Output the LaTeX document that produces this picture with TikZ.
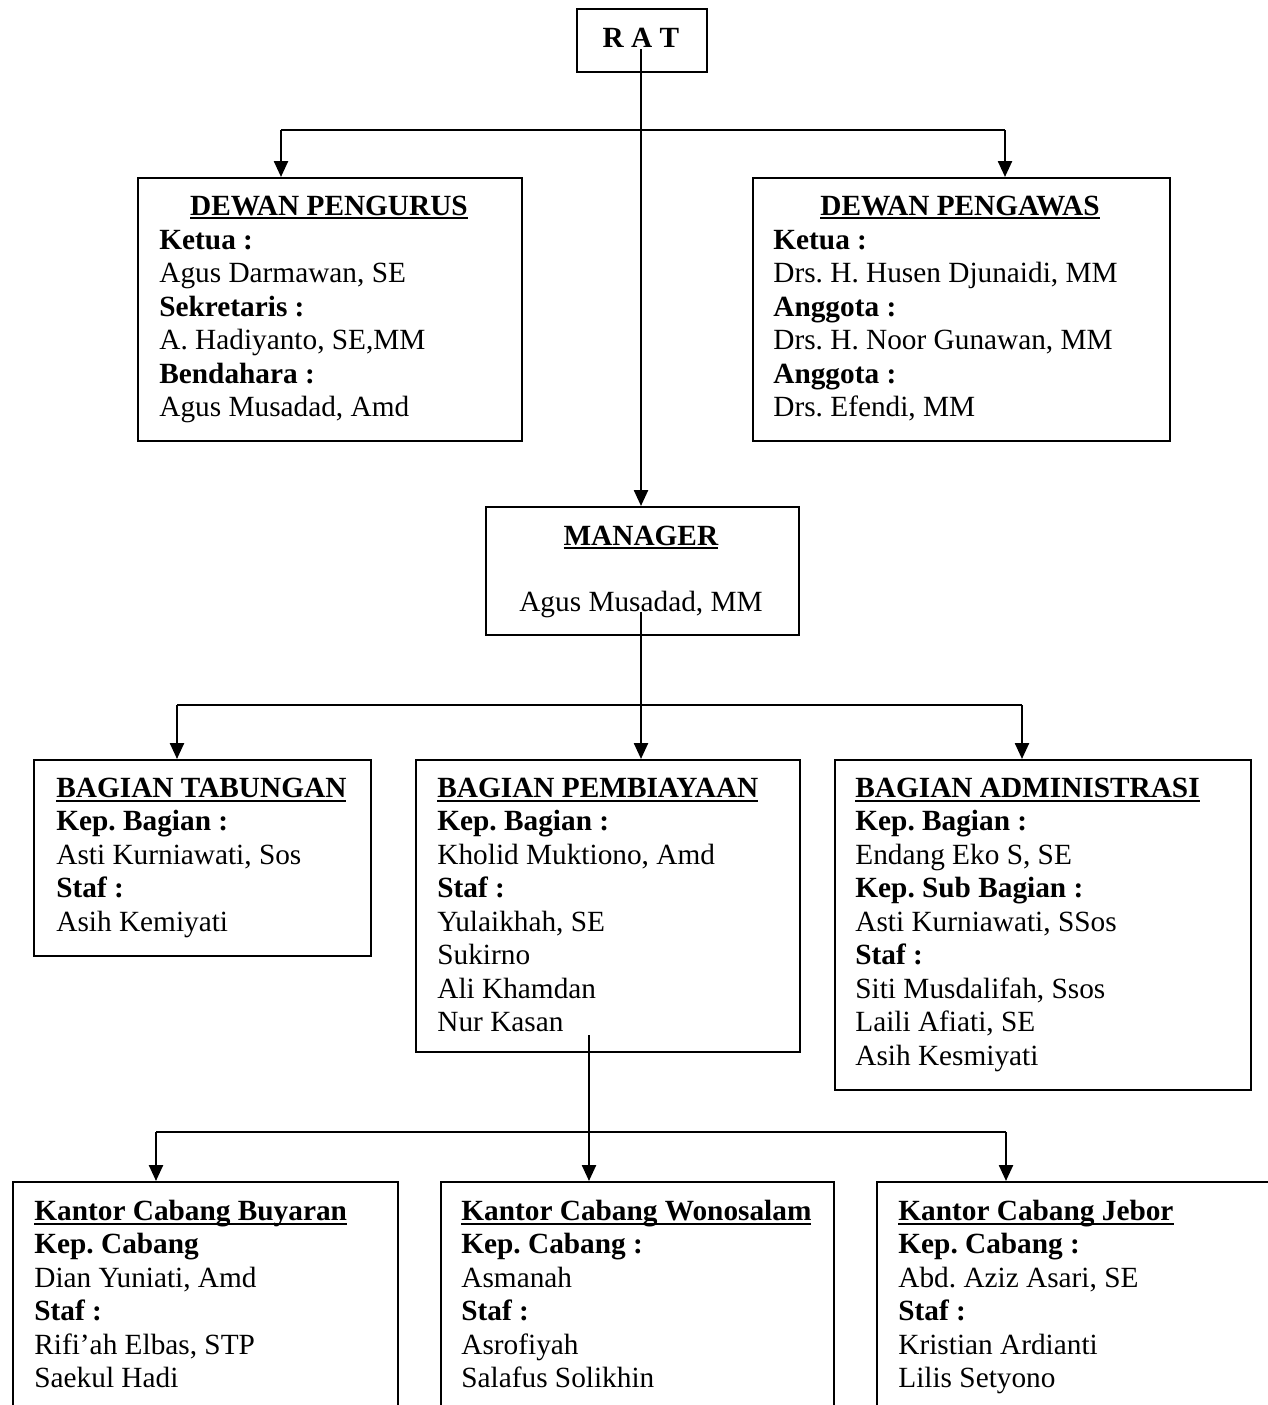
\documentclass[tikz,border=0pt]{standalone}
\usepackage{fontspec}
\setmainfont{Liberation Serif}
\usetikzlibrary{arrows.meta}
\newcommand\fs{\fontsize{14.65}{16.75}\selectfont\frenchspacing}
\newcommand\ulb[1]{\setbox0\hbox{#1}\rlap{\rule[-2.1pt]{\wd0}{1pt}}\box0}
\begin{document}
\begin{tikzpicture}[x=0.5pt,y=-0.5pt,
  box/.style={draw, line width=1pt, inner sep=0pt, anchor=north west},
  ttl/.style={anchor=base, inner sep=0pt, font=\fs},
  body/.style={anchor=north west, inner sep=0pt, align=left, font=\fs},
  ln/.style={line width=1.2pt},
  arr/.style={line width=1.2pt, -{Triangle[length=8pt,width=7pt]}}]
\useasboundingbox (0,0) rectangle (1268,1405);
\clip (0,0) rectangle (1268,1405);
\fill[white] (0,0) rectangle (1268,1405);

% boxes
\node[box, minimum width=65pt,  minimum height=31.5pt] (rat)  at (576,8) {};
\node[box, minimum width=192pt, minimum height=131.5pt] (dp)  at (137,177) {};
\node[box, minimum width=208.5pt, minimum height=131.5pt] (dv) at (752,177) {};
\node[box, minimum width=156.5pt, minimum height=64pt] (mgr) at (485,506) {};
\node[box, minimum width=168.5pt, minimum height=98pt] (tab) at (33,759) {};
\node[box, minimum width=192pt, minimum height=146pt] (pemb) at (415,759) {};
\node[box, minimum width=208pt, minimum height=165pt] (adm) at (834,759) {};
\node[box, minimum width=192.5pt, minimum height=130pt] (buy) at (12,1181) {};
\node[box, minimum width=196.5pt, minimum height=130pt] (won) at (440,1181) {};
\node[box, minimum width=210pt, minimum height=130pt] (jeb) at (876,1181) {};

% texts
\node[ttl] (ratt) at (641,47) {\textbf{R A T}};

\node[ttl] (dpt) at (329,215) {\ulb{\textbf{DEWAN PENGURUS}}};
\node[body] (dpb) at (159,225.5) {\strut\textbf{Ketua :}\\Agus Darmawan, SE\\\textbf{Sekretaris :}\\A. Hadiyanto, SE,MM\\\textbf{Bendahara :}\\Agus Musadad, Amd};

\node[ttl] (dvt) at (960,215) {\ulb{\textbf{DEWAN PENGAWAS}}};
\node[body] (dvb) at (773,225.5) {\strut\textbf{Ketua :}\\Drs. H. Husen Djunaidi, MM\\\textbf{Anggota :}\\Drs. H. Noor Gunawan, MM\\\textbf{Anggota :}\\Drs. Efendi, MM};

\node[ttl] (mgrt) at (641,545) {\ulb{\textbf{MANAGER}}};
\node[ttl] (mgrn) at (641,611) {Agus Musadad, MM};

\node[body] (tabb) at (56,773.5) {\strut\ulb{\textbf{BAGIAN TABUNGAN}}\\\textbf{Kep. Bagian :}\\Asti Kurniawati, Sos\\\textbf{Staf :}\\Asih Kemiyati};

\node[body] (pembb) at (437,773.5) {\strut\ulb{\textbf{BAGIAN PEMBIAYAAN}}\\\textbf{Kep. Bagian :}\\Kholid Muktiono, Amd\\\textbf{Staf :}\\Yulaikhah, SE\\Sukirno\\Ali Khamdan\\Nur Kasan};

\node[body] (admb) at (855,773.5) {\strut\ulb{\textbf{BAGIAN ADMINISTRASI}}\\\textbf{Kep. Bagian :}\\Endang Eko S, SE\\\textbf{Kep. Sub Bagian :}\\Asti Kurniawati, SSos\\\textbf{Staf :}\\Siti Musdalifah, Ssos\\Laili Afiati, SE\\Asih Kesmiyati};

\node[body] (buyb) at (34,1196.5) {\strut\ulb{\textbf{Kantor Cabang Buyaran}}\\\textbf{Kep. Cabang}\\Dian Yuniati, Amd\\\textbf{Staf :}\\Rifi’ah Elbas, STP\\Saekul Hadi};

\node[body] (wonb) at (461,1196.5) {\strut\ulb{\textbf{Kantor Cabang Wonosalam}}\\\textbf{Kep. Cabang :}\\Asmanah\\\textbf{Staf :}\\Asrofiyah\\Salafus Solikhin};

\node[body] (jebb) at (898,1196.5) {\strut\ulb{\textbf{Kantor Cabang Jebor}}\\\textbf{Kep. Cabang :}\\Abd. Aziz Asari, SE\\\textbf{Staf :}\\Kristian Ardianti\\Lilis Setyono};

% connectors
\coordinate (ratin) at (641,49);
\draw[arr] (ratin) -- (ratin |- mgr.north);
\coordinate (t1) at (281,130);
\coordinate (t2) at (1005,130);
\draw[ln] (t1) -- (t2);
\draw[arr] (t1) -- (t1 |- dp.north);
\draw[arr] (t2) -- (t2 |- dv.north);

\coordinate (mgin) at (641,612);
\draw[arr] (mgin) -- (mgin |- pemb.north);
\coordinate (m1) at (177,705);
\coordinate (m2) at (1022,705);
\draw[ln] (m1) -- (m2);
\draw[arr] (m1) -- (m1 |- tab.north);
\draw[arr] (m2) -- (m2 |- adm.north);

\coordinate (pin) at (589,1035);
\draw[arr] (pin) -- (pin |- won.north);
\coordinate (b1) at (156,1132);
\coordinate (b2) at (1006,1132);
\draw[ln] (b1) -- (b2);
\draw[arr] (b1) -- (b1 |- buy.north);
\draw[arr] (b2) -- (b2 |- jeb.north);
\end{tikzpicture}
\end{document}
